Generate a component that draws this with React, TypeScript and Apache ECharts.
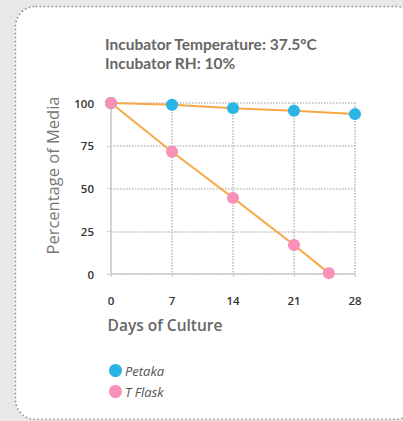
import React, { useEffect, useRef } from "react";
import * as echarts from "echarts";

const days = [0, 7, 14, 21, 28];
const petaka = [100, 99, 97, 95.5, 93.5];
const tFlaskDays = [0, 7, 14, 21, 25];
const tFlask = [100, 71.5, 44.5, 17, 0.5];
const titleLines = ["Incubator Temperature: 37.5ºC", "Incubator RH: 10%"];

const FONT = "'Open Sans', 'Noto Sans', sans-serif";
const TITLE_FONT = "Lato, 'Open Sans', sans-serif";

export default function App() {
  const ref = useRef<HTMLDivElement>(null);
  useEffect(() => {
    if (!ref.current) return;
    const chart = echarts.init(ref.current, undefined, { renderer: "svg" });
    const titleStyle = { fontFamily: TITLE_FONT, fontSize: 15.5, fontWeight: "bold", color: "#666", lineHeight: 16 };
    chart.setOption({
      animation: false,
      backgroundColor: "#e8e8e8",
      textStyle: { fontFamily: FONT },
      graphic: [
        {
          type: "rect",
          z: -10,
          shape: { x: 15.5, y: 6.5, width: 400, height: 413, r: 20 },
          style: { fill: "#ffffff", stroke: "#8a8a8a", lineWidth: 1.5, lineDash: [1.5, 2.5] },
          silent: true,
        },
      ],
      title: titleLines.map((t, i) => ({
        text: t,
        left: 100,
        top: 36 + i * 18.5,
        padding: [0, 5, 0, 5],
        textStyle: titleStyle,
      })),
      legend: {
        orient: "vertical",
        left: 104,
        top: 359,
        itemWidth: 13,
        itemHeight: 13,
        itemGap: 8,
        icon: "circle",
        textStyle: { fontFamily: FONT, fontSize: 13, fontStyle: "italic", color: "#555", padding: [0, 0, 0, -2] },
        data: ["Petaka", "T Flask"],
      },
      grid: { left: 111, right: 48, top: 103, bottom: 147 },
      xAxis: {
        type: "value",
        min: 0,
        max: 28,
        interval: 7,
        offset: 12,
        name: "Days of Culture",
        nameLocation: "middle",
        nameGap: 31,
        nameTextStyle: {
          fontFamily: FONT,
          fontSize: 15.5,
          fontWeight: 600,
          color: "#666",
          padding: [0, 136, 0, 0],
        },
        axisLine: { show: true, lineStyle: { color: "#cccccc", width: 1.5 } },
        axisTick: { show: true, length: 3, lineStyle: { color: "#cccccc" } },
        axisLabel: { fontFamily: FONT, fontSize: 11.5, fontWeight: 600, color: "#333", margin: 8 },
        splitLine: { show: true, lineStyle: { color: "#bbbbbb", type: [1.5, 1.5], width: 1.5 } },
      },
      yAxis: {
        type: "value",
        min: 0,
        max: 100,
        interval: 25,
        offset: 11,
        name: "Percentage of Media",
        nameLocation: "middle",
        nameGap: 39,
        nameTextStyle: {
          fontFamily: FONT,
          fontSize: 16.5,
          color: "#777",
          padding: [0, 0, 0, 26],
        },
        axisLine: { show: true, lineStyle: { color: "#cccccc", width: 1.5 } },
        axisTick: { show: true, length: 4, lineStyle: { color: "#cccccc" } },
        axisLabel: { fontFamily: FONT, fontSize: 11.5, fontWeight: 600, color: "#333", margin: 6 },
        splitLine: { show: true, lineStyle: { color: "#bbbbbb", type: [1.5, 1.5], width: 1.5 } },
      },
      series: [
        {
          name: "Petaka",
          type: "line",
          data: days.map((d, i) => [d, petaka[i]]),
          symbol: "circle",
          symbolSize: 12,
          itemStyle: { color: "#2bb5e5" },
          lineStyle: { color: "#f7a945", width: 2 },
          z: 2,
        },
        {
          name: "T Flask",
          type: "line",
          data: tFlaskDays.map((d, i) => [d, tFlask[i]]),
          symbol: "circle",
          symbolSize: 12,
          itemStyle: { color: "#f990b8" },
          lineStyle: { color: "#f7a945", width: 2 },
          z: 3,
        },
      ],
    });
    return () => chart.dispose();
  }, []);
  return (
    <div
      ref={ref}
      style={{ position: "fixed", left: 0, top: 0, width: 403, height: 421 }}
    />
  );
}
